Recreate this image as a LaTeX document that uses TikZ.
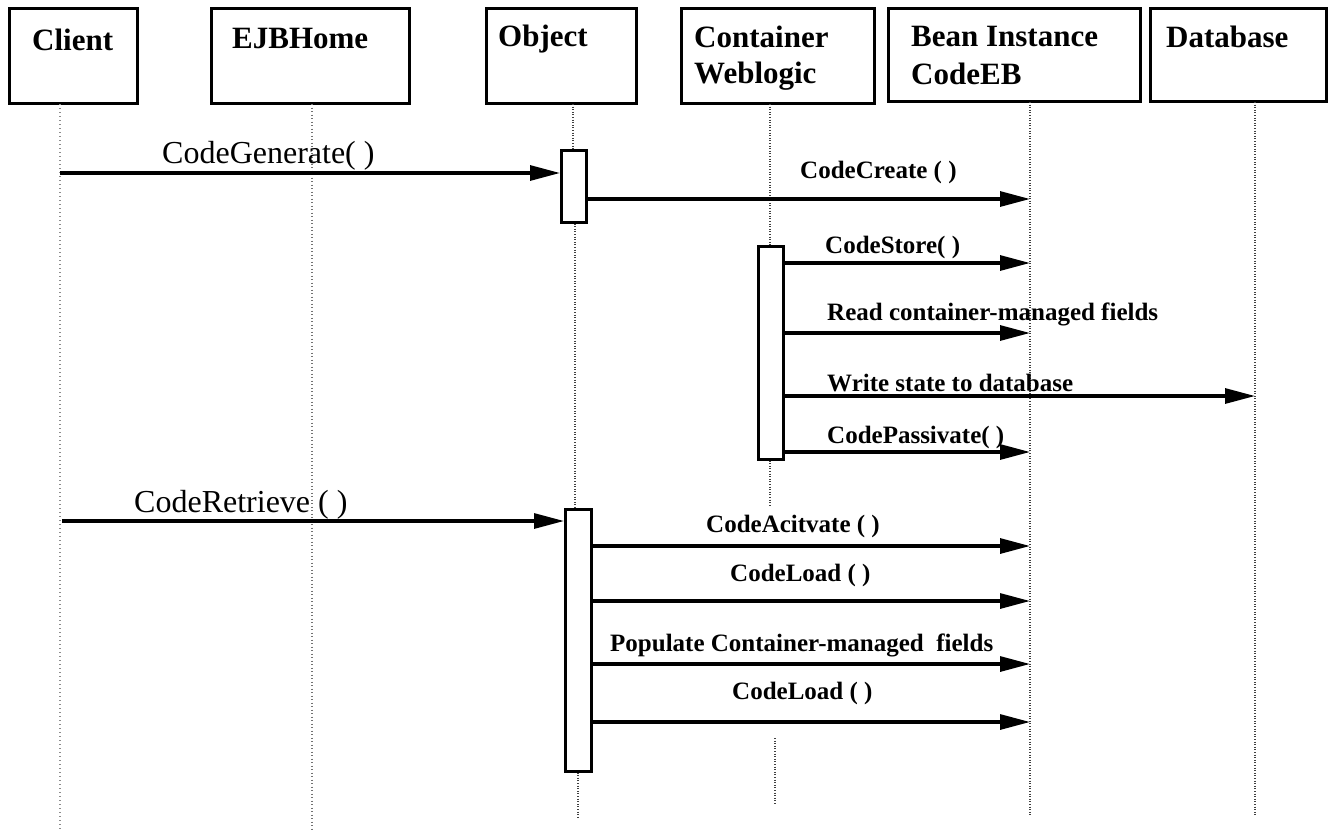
\documentclass[tikz,border=0pt]{standalone}
\usepackage{fontspec}
\setmainfont{Liberation Serif}
\usetikzlibrary{arrows.meta}
\newcommand\hdrfont{\fontsize{31}{36}\selectfont\bfseries}
\newcommand\callfont{\fontsize{32}{38}\selectfont}
\newcommand\msgfont{\fontsize{25}{30}\selectfont\bfseries}
\begin{document}
\begin{tikzpicture}[x=1pt,y=-1pt,
  hdr/.style={draw, line width=3.3pt, inner sep=0pt, anchor=north west},
  hdrtxt/.style={anchor=base west, inner sep=0pt, font=\hdrfont},
  life/.style={line width=1.2pt, dash pattern=on 1pt off 1.6pt, black!75},
  actbar/.style={draw, line width=3pt, fill=white, inner sep=0pt, anchor=north west},
  msg/.style={line width=3.1pt, -{Triangle[length=30pt,width=15pt]}},
  calllbl/.style={anchor=base west, inner sep=0pt, font=\callfont},
  msglbl/.style={anchor=base west, inner sep=0pt, font=\msgfont}]
\useasboundingbox (0,0) rectangle (1329,830);

% ---- participant boxes ----
\node[hdr, minimum width=128pt, minimum height=95pt] (client) at (8,7) {};
\node[hdr, minimum width=198pt, minimum height=95pt] (home) at (210,7) {};
\node[hdr, minimum width=150pt, minimum height=95pt] (object) at (485,7) {};
\node[hdr, minimum width=193pt, minimum height=95pt] (container) at (680,7) {};
\node[hdr, minimum width=252pt, minimum height=93pt] (bean) at (887,7) {};
\node[hdr, minimum width=176pt, minimum height=93pt] (db) at (1149,7) {};

\node[hdrtxt] (t-client) at (32,50) {Client};
\node[hdrtxt] (t-home) at (232,48) {EJBHome};
\node[hdrtxt] (t-object) at (498,46) {Object};
\node[hdrtxt] (t-cont1) at (694,47) {Container};
\node[hdrtxt] (t-cont2) at (694,83) {Weblogic};
\node[hdrtxt] (t-bean1) at (911,46) {Bean Instance};
\node[hdrtxt] (t-bean2) at (911,84) {CodeEB};
\node[hdrtxt] (t-db) at (1166,47) {Database};

% ---- lifelines ----
\coordinate (cl-top) at (60,104);   \coordinate (cl-end) at (60,830);
\coordinate (hm-top) at (312,104);  \coordinate (hm-end) at (312,830);
\coordinate (ob-top) at (573,104);
\coordinate (ob-mid) at (575,508);
\coordinate (ob-end) at (578,817);
\coordinate (ct-top) at (770,104);
\coordinate (ct-gap) at (770,505);
\coordinate (ct-low1) at (775,738); \coordinate (ct-low2) at (775,805);
\coordinate (bn-top) at (1030,102); \coordinate (bn-end) at (1030,815);
\coordinate (db-top) at (1255,102); \coordinate (db-end) at (1255,815);

\draw[life, black!45, dash pattern=on 1pt off 3pt] (cl-top) -- (cl-end);
\draw[life, black!55, dash pattern=on 1pt off 2.5pt] (hm-top) -- (hm-end);
\draw[life] (ob-top) -- (ob-top |- 0,149);
\draw[life] (575,221) -- (ob-mid);
\draw[life] (578,770) -- (ob-end);
\draw[life] (ct-top) -- (ct-top |- 0,245);
\draw[life] (770,458) -- (ct-gap);
\draw[life] (ct-low1) -- (ct-low2);
\draw[life] (bn-top) -- (bn-end);
\draw[life] (db-top) -- (db-end);

% ---- activation bars (over the lifelines) ----
\node[actbar, minimum width=25pt, minimum height=72pt] (act1) at (560,149) {};
\node[actbar, minimum width=25pt, minimum height=213pt] (act2) at (757,245) {};
\node[actbar, minimum width=26pt, minimum height=262pt] (act3) at (564,508) {};

% ---- messages ----
\coordinate (m1) at (60,173);
\draw[msg] (m1) -- (m1 -| act1.west);
\node[calllbl] (l1) at (162,163) {CodeGenerate( )};

\coordinate (m2) at (0,199);
\draw[msg] (m2 -| act1.east) -- (m2 -| bn-top);
\node[msglbl] (l2) at (800,178) {CodeCreate ( )};

\coordinate (m3) at (0,263);
\draw[msg] (m3 -| act2.east) -- (m3 -| bn-top);
\node[msglbl] (l3) at (825,253) {CodeStore( )};

\coordinate (m4) at (0,333);
\draw[msg] (m4 -| act2.east) -- (m4 -| bn-top);
\node[msglbl] (l4) at (827,320) {Read container-managed fields};

\coordinate (m5) at (0,396);
\draw[msg] (m5 -| act2.east) -- (m5 -| db-top);
\node[msglbl] (l5) at (827,391) {Write state to database};

\coordinate (m6) at (0,452);
\draw[msg] (m6 -| act2.east) -- (m6 -| bn-top);
\node[msglbl] (l6) at (827,443) {CodePassivate( )};

\coordinate (m7) at (62,521);
\draw[msg] (m7) -- (m7 -| act3.west);
\node[calllbl] (l7) at (134,512) {CodeRetrieve ( )};

\coordinate (m8) at (0,546);
\draw[msg] (m8 -| act3.east) -- (m8 -| bn-top);
\node[msglbl] (l8) at (706,532) {CodeAcitvate ( )};

\coordinate (m9) at (0,601);
\draw[msg] (m9 -| act3.east) -- (m9 -| bn-top);
\node[msglbl] (l9) at (730,581) {CodeLoad ( )};

\coordinate (m10) at (0,664);
\draw[msg] (m10 -| act3.east) -- (m10 -| bn-top);
\node[msglbl] (l10) at (610,651) {Populate Container-managed\ \ fields};

\coordinate (m11) at (0,722);
\draw[msg] (m11 -| act3.east) -- (m11 -| bn-top);
\node[msglbl] (l11) at (732,699) {CodeLoad ( )};
\end{tikzpicture}
\end{document}
